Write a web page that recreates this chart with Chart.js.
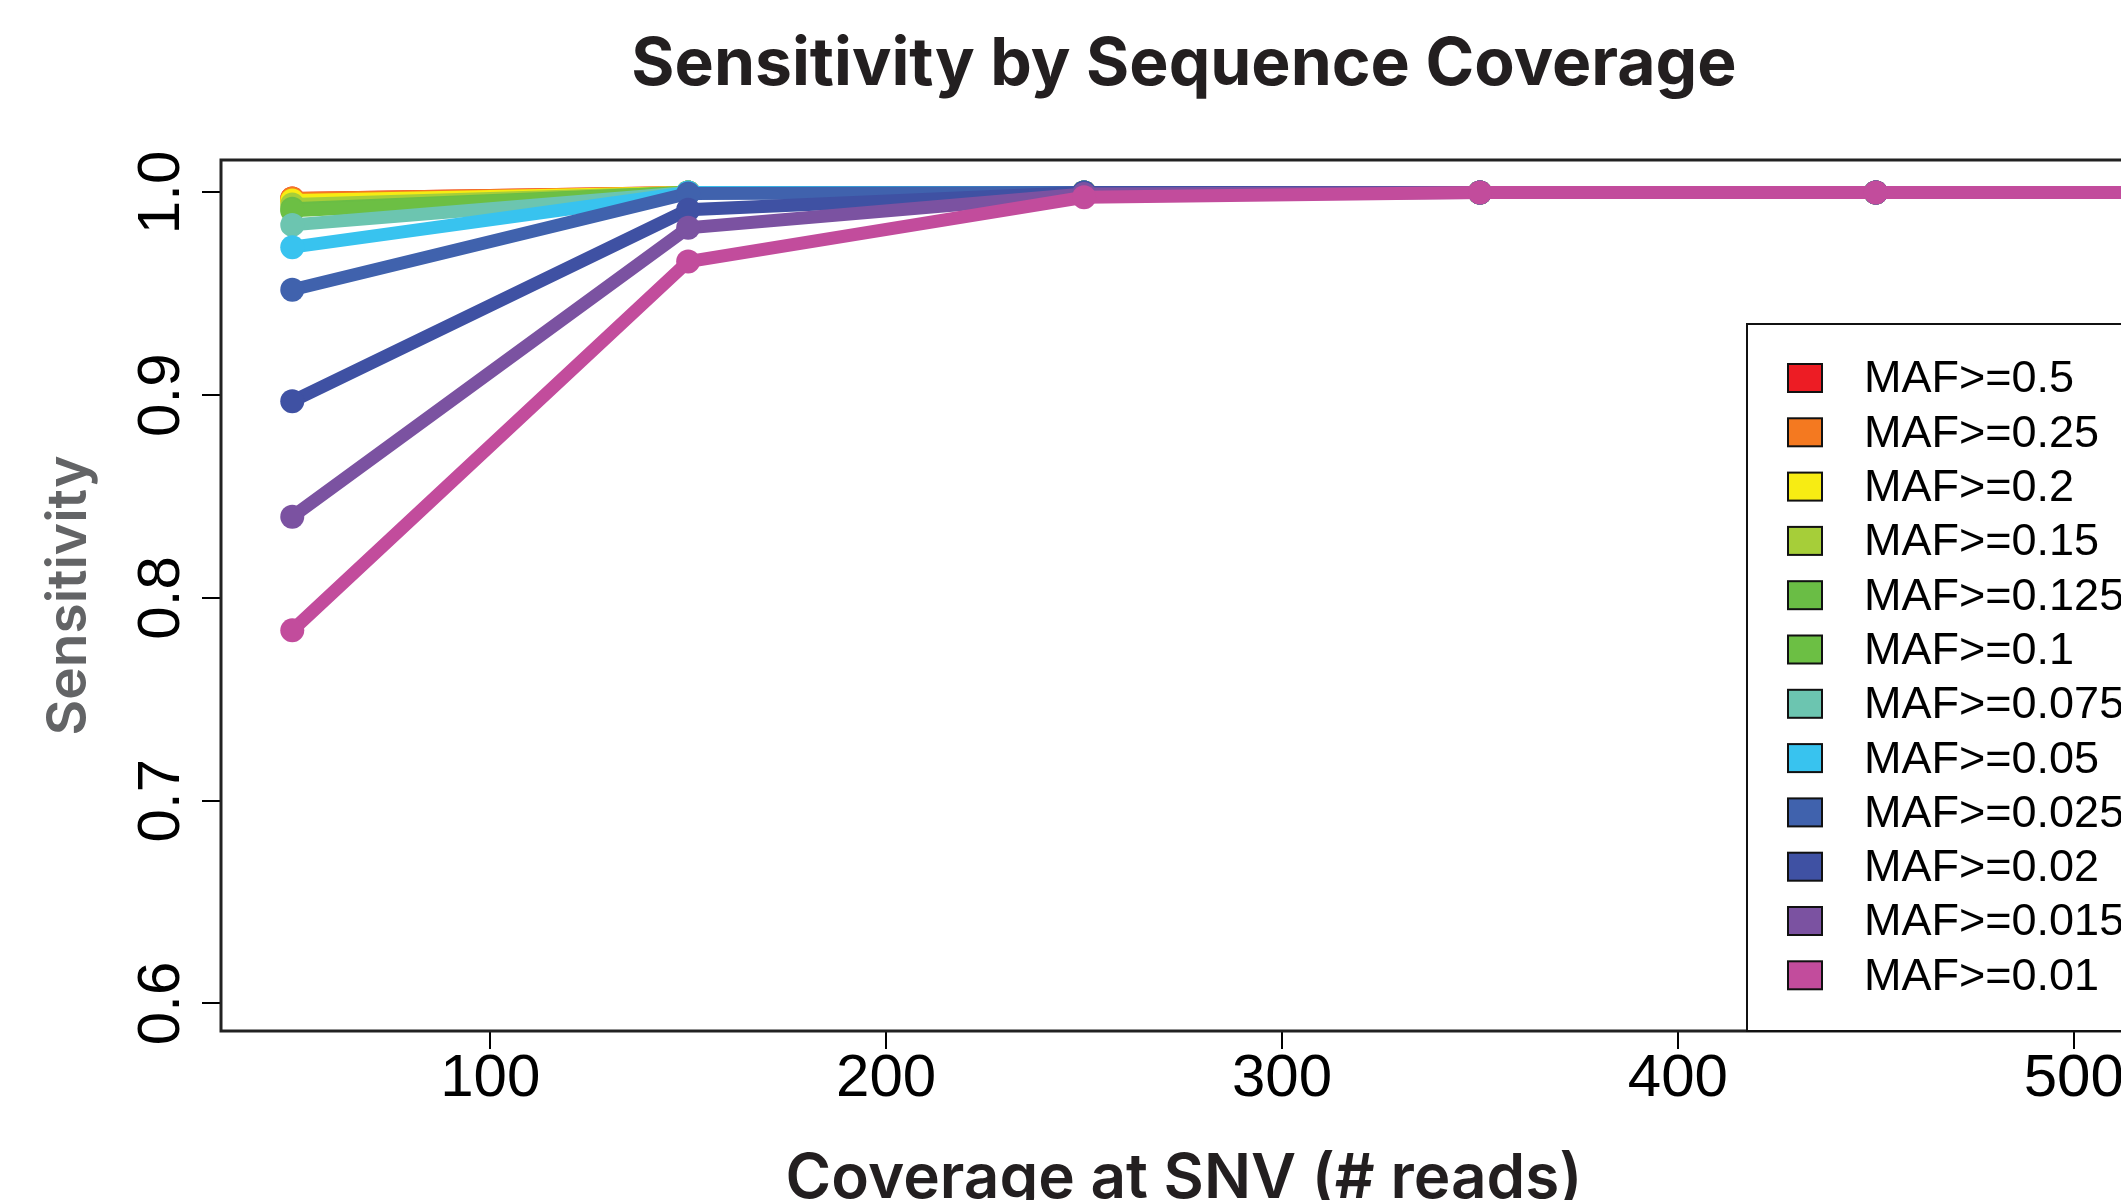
<!DOCTYPE html>
<html lang="en">
<head>
    <meta charset="UTF-8">
    <title>Sensitivity by Sequence Coverage</title>
    <style>
      html, body { margin: 0; padding: 0; background: #fff; overflow: hidden; }
      #wrap { width: 2368px; height: 1200px; }
    </style>
</head>
  <body>
    <div id="wrap">
      <canvas id="sensChart" width="2368" height="1200"></canvas>
    </div>
    <script src="https://cdn.jsdelivr.net/npm/chart.js"></script>
    <script>
      // coverage bins (# reads)
      const coverage = [50, 150, 250, 350, 450, 550];

      const mafLabels = ['MAF>=0.5', 'MAF>=0.25', 'MAF>=0.2', 'MAF>=0.15', 'MAF>=0.125', 'MAF>=0.1',
                         'MAF>=0.075', 'MAF>=0.05', 'MAF>=0.025', 'MAF>=0.02', 'MAF>=0.015', 'MAF>=0.01'];
      const mafColors = ['#ed1c24', '#f47920', '#f7ec13', '#a6ce39', '#6abd45', '#6cbf44',
                         '#6cc5b0', '#38c3ef', '#4062ad', '#3f51a3', '#7b52a1', '#c24c9c'];

      const sens05   = [0.997, 1.0, 1.0, 1.0, 1.0, 1.0];
      const sens025  = [0.997, 1.0, 1.0, 1.0, 1.0, 1.0];
      const sens02   = [0.996, 1.0, 1.0, 1.0, 1.0, 1.0];
      const sens015  = [0.994, 1.0, 1.0, 1.0, 1.0, 1.0];
      const sens0125 = [0.992, 1.0, 1.0, 1.0, 1.0, 1.0];
      const sens01   = [0.991, 1.0, 1.0, 1.0, 1.0, 1.0];
      const sens0075 = [0.984, 1.0, 1.0, 1.0, 1.0, 1.0];
      const sens005  = [0.973, 1.0, 1.0, 1.0, 1.0, 1.0];
      const sens0025 = [0.952, 0.9995, 1.0, 1.0, 1.0, 1.0];
      const sens002  = [0.897, 0.9915, 1.0, 1.0, 1.0, 1.0];
      const sens0015 = [0.840, 0.9826, 0.9992, 1.0, 1.0, 1.0];
      const sens001  = [0.784, 0.9659, 0.9976, 1.0, 1.0, 1.0];

      const allSeries = [sens05, sens025, sens02, sens015, sens0125, sens01,
                         sens0075, sens005, sens0025, sens002, sens0015, sens001];

      const xTicks = [100, 200, 300, 400, 500];
      const yTicks = [0.6, 0.7, 0.8, 0.9, 1.0];
      const yTickLabels = ['0.6', '0.7', '0.8', '0.9', '1.0'];

      const datasets = allSeries.map((vals, i) => ({
        label: mafLabels[i],
        data: vals.map((v, j) => ({ x: coverage[j], y: v })),
        borderColor: mafColors[i],
        backgroundColor: mafColors[i],
        borderWidth: 13,
        pointRadius: 12,
        pointBorderWidth: 0,
        pointHoverRadius: 12,
        tension: 0,
        order: allSeries.length - 1 - i
      }));

      // R style box + y labels + boxed legend
      const rStyle = {
        id: 'rStyle',
        afterDraw(chart) {
          const { ctx, chartArea: a, scales } = chart;
          ctx.save();
          ctx.strokeStyle = '#222';
          ctx.lineWidth = 3;
          ctx.strokeRect(a.left, a.top, a.right - a.left, a.bottom - a.top);

          // rotated y tick labels
          ctx.fillStyle = '#000';
          ctx.font = '60px "Liberation Sans", Arial, sans-serif';
          ctx.textAlign = 'center';
          ctx.textBaseline = 'middle';
          yTicks.forEach((v, i) => {
            const py = scales.y.getPixelForValue(v);
            ctx.save();
            ctx.translate(160, py);
            ctx.rotate(-Math.PI / 2);
            ctx.fillText(yTickLabels[i], 0, 2);
            ctx.restore();
          });

          // legend
          const bx = a.right - 400, by = a.bottom - 707;
          ctx.fillStyle = '#fff';
          ctx.fillRect(bx, by, a.right - bx, a.bottom - by);
          ctx.lineWidth = 2;
          ctx.strokeStyle = '#111';
          ctx.strokeRect(bx, by, a.right - bx, a.bottom - by);
          ctx.font = '45px "Liberation Sans", Arial, sans-serif';
          ctx.textAlign = 'left';
          mafLabels.forEach((lab, i) => {
            const cy = by + 54 + i * 54.3;
            ctx.fillStyle = mafColors[i];
            ctx.fillRect(bx + 41, cy - 14, 34, 28);
            ctx.strokeStyle = '#111';
            ctx.lineWidth = 2;
            ctx.strokeRect(bx + 41, cy - 14, 34, 28);
            ctx.fillStyle = '#000';
            ctx.fillText(lab, bx + 117, cy + 2);
          });
          ctx.restore();
        }
      };

      const ctx = document.getElementById('sensChart').getContext('2d');
      new Chart(ctx, {
        type: 'line',
        data: { datasets: datasets },
        plugins: [rStyle],
        options: {
          responsive: false,
          animation: false,
          layout: { padding: 0 },
          plugins: {
            legend: { display: false },
            tooltip: { enabled: false },
            title: {
              display: true,
              text: 'Sensitivity by Sequence Coverage',
              color: '#231f20',
              font: { family: 'Inter, "Open Sans", sans-serif', size: 66, weight: 'bold', lineHeight: 1.2 },
              padding: { top: 26, bottom: 54.8 }
            }
          },
          scales: {
            x: {
              type: 'linear',
              min: 32,
              max: 518.5,
              afterBuildTicks(scale) { scale.ticks = xTicks.map(v => ({ value: v })); },
              afterFit(scale) { scale.height = 169; },
              grid: { drawOnChartArea: false, drawTicks: true, tickLength: 18, color: '#000', lineWidth: 2 },
              border: { display: false },
              ticks: {
                color: '#000',
                padding: 0,
                maxRotation: 0,
                font: { family: '"Liberation Sans", Arial, sans-serif', size: 60, lineHeight: 1 },
                callback: v => String(v)
              },
              title: {
                display: true,
                text: 'Coverage at SNV (# reads)',
                color: '#231f20',
                font: { family: 'Inter, "Open Sans", sans-serif', size: 62, weight: '600', lineHeight: 1 },
                padding: { top: 0, bottom: -10 }
              }
            },
            y: {
              min: 0.5864,
              max: 1.016,
              afterBuildTicks(scale) { scale.ticks = yTicks.map(v => ({ value: v })); },
              afterFit(scale) { scale.width = 221; },
              grid: { drawOnChartArea: false, drawTicks: true, tickLength: 19, color: '#000', lineWidth: 2 },
              border: { display: false },
              ticks: { display: false },
              title: {
                display: true,
                text: 'Sensitivity',
                color: '#636466',
                font: { family: 'Inter, "Open Sans", sans-serif', size: 55, weight: '600', lineHeight: 1 },
                padding: { top: 42, bottom: 0 }
              }
            },
            // empty right margin so the plot matches the original page crop
            yRight: {
              type: 'linear',
              position: 'right',
              afterFit(scale) { scale.width = 221; },
              grid: { display: false },
              border: { display: false },
              ticks: { display: false }
            }
          }
        }
      });
    </script>
  </body>
</html>
